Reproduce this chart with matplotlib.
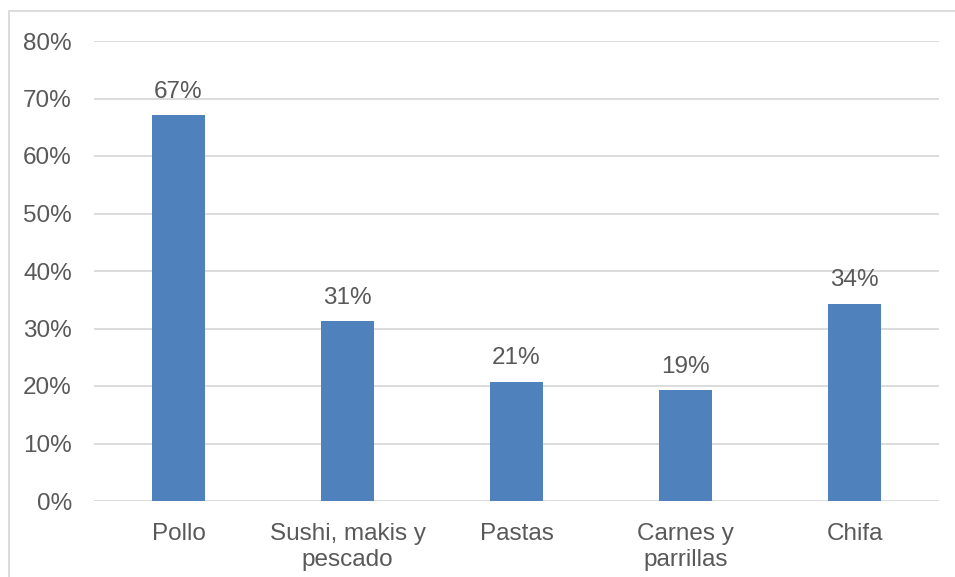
import matplotlib
matplotlib.use("Agg")
import matplotlib.pyplot as plt
from matplotlib.patches import Rectangle
from matplotlib.ticker import FuncFormatter

categories = ["Pollo", "Sushi, makis y\npescado", "Pastas", "Carnes y\nparrillas", "Chifa"]
values = [0.671, 0.313, 0.207, 0.193, 0.343]
labels = ["67%", "31%", "21%", "19%", "34%"]

plt.rcParams['font.family'] = ['Liberation Sans', 'DejaVu Sans']
txt = '#595959'
grid = '#D9D9D9'

fig = plt.figure(figsize=(9.55, 5.77), dpi=100)
fig.patch.set_facecolor('white')
fig.add_artist(Rectangle((8.5/955, -0.1), 1.2, 1 - 11/577 + 0.1, transform=fig.transFigure,
                         fill=False, edgecolor=grid, linewidth=1.3))

ax = fig.add_axes([94/955, 1 - 501/577, 845/955, 460/577])
x = range(len(categories))
ax.bar(x, values, width=0.315, color='#4F81BD', zorder=3)
ax.set_xlim(-0.5, len(categories) - 0.5)
ax.set_ylim(0, 0.8)
ax.set_yticks([i / 10 for i in range(9)])
ax.yaxis.set_major_formatter(FuncFormatter(lambda v, p: f"{round(v*100)}%"))
ax.set_xticks(list(x))
ax.set_xticklabels(categories)
ax.grid(axis='y', color=grid, linewidth=1.3, zorder=0)
for s in ax.spines.values():
    s.set_visible(False)
ax.tick_params(length=0, labelsize=17.5, colors=txt)
ax.tick_params(axis='y', pad=16)
ax.tick_params(axis='x', pad=16)
for xi, v, l in zip(x, values, labels):
    ax.annotate(l, (xi, v), xytext=(0, 9), textcoords='offset points',
                ha='center', va='bottom', fontsize=17.5, color=txt)

fig.savefig('out.png', dpi=100, facecolor='white')
